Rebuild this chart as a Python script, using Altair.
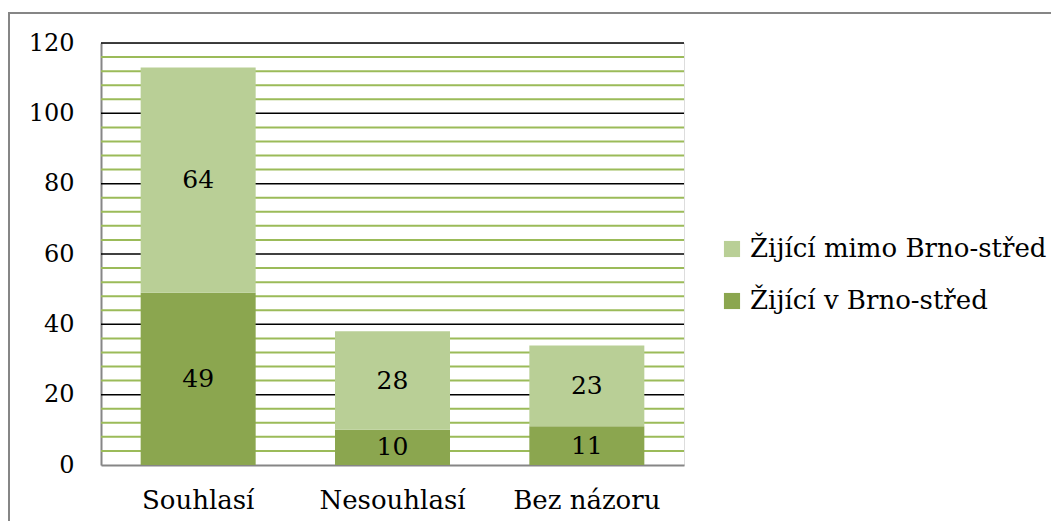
import altair as alt
import pandas as pd

categories = ["Souhlasí", "Nesouhlasí", "Bez názoru"]
series = ["Žijící mimo Brno-střed", "Žijící v Brno-střed"]
v_brno = [49, 10, 11]
mimo_brno = [64, 28, 23]
colors = ["#B9CF96", "#8BA64F"]
major_ticks = [0, 20, 40, 60, 80, 100, 120]
minor_ticks = [v for v in range(4, 120, 4) if v % 20 != 0]

rows = []
for i, c in enumerate(categories):
    lo = v_brno[i]
    hi = mimo_brno[i]
    rows.append({"cat": c, "series": series[1], "value": lo, "ord": 0, "mid": lo / 2})
    rows.append({"cat": c, "series": series[0], "value": hi, "ord": 1, "mid": lo + hi / 2})
df = pd.DataFrame(rows)
minor_df = pd.DataFrame({"v": minor_ticks})
major_df = pd.DataFrame({"v": [t for t in major_ticks if t > 0]})

FONT = "DejaVu Serif"

yscale = alt.Scale(domain=[0, 120], nice=False)
yaxis = alt.Axis(values=major_ticks, labelOverlap=False,
                 labelFont=FONT, labelFontSize=24, labelColor="black",
                 labelPadding=27, ticks=False, grid=False,
                 domainColor="#868686", domainWidth=2)

minor = alt.Chart(minor_df).mark_rule(color="#9BBB59", strokeWidth=2).encode(
    y=alt.Y("v:Q", scale=yscale, axis=yaxis, title=None)
)
major = alt.Chart(major_df).mark_rule(color="black", strokeWidth=1.5).encode(
    y=alt.Y("v:Q", scale=yscale, axis=yaxis, title=None)
)

x = alt.X("cat:N", sort=categories, title=None,
          scale=alt.Scale(paddingInner=0.41, paddingOuter=0.205),
          axis=alt.Axis(labelAngle=0, labelFont=FONT, labelFontSize=26, labelColor="black",
                        labelPadding=22, ticks=False, domainColor="#868686", domainWidth=2,
                        grid=False))

bars = alt.Chart(df).mark_bar(size=115).encode(
    x=x,
    y=alt.Y("value:Q", stack="zero", title=None, scale=yscale, axis=yaxis),
    color=alt.Color("series:N", scale=alt.Scale(domain=series, range=colors),
                    legend=alt.Legend(title=None, orient="none", legendX=618, legendY=193,
                                      symbolType="square", symbolSize=260, symbolStrokeWidth=0,
                                      labelFont=FONT, labelFontSize=26, labelColor="black",
                                      labelOffset=5, rowPadding=26, labelLimit=400)),
    order=alt.Order("ord:Q"),
)

labels = alt.Chart(df).mark_text(font=FONT, fontSize=25, color="black", baseline="middle").encode(
    x=alt.X("cat:N", sort=categories),
    y=alt.Y("mid:Q", scale=yscale, axis=yaxis, title=None),
    text=alt.Text("value:Q"),
)

border = alt.Chart(df).mark_rect(fill=None, stroke="#868686", strokeWidth=2).encode(
    x=alt.value(-92), x2=alt.value(1100), y=alt.value(-30), y2=alt.value(600)
)

chart = alt.layer(minor, major, bars, labels, border).properties(
    width=583, height=422,
    autosize=alt.AutoSizeParams(type="none"),
    padding={"left": 93, "top": 35, "right": 367, "bottom": 56},
).configure_view(stroke=None).configure(background="white")

chart.save("out.html", embed_options={"renderer": "svg", "actions": False})
